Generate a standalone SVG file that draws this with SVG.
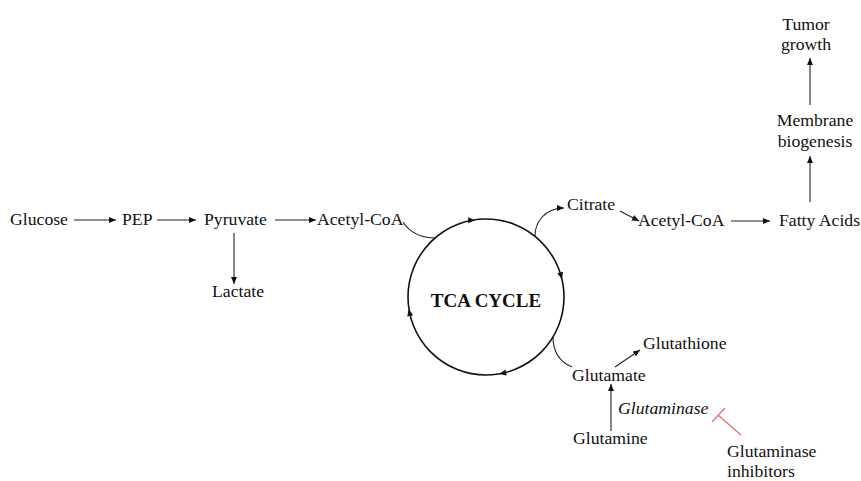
<svg xmlns="http://www.w3.org/2000/svg" width="861" height="481" viewBox="0 0 861 481">
<style>
text{font-family:"Liberation Serif","Times New Roman",serif;font-size:17.7px;fill:#111}
.it{font-style:italic}
.b{font-weight:bold;font-size:19px}
.ln{fill:none;stroke:#222;stroke-width:1.1}
.red{fill:none;stroke:#e8706e;stroke-width:1.3}
</style>
<defs>
<marker id="ah" markerUnits="userSpaceOnUse" markerWidth="8" markerHeight="8" viewBox="0 0 8 8" refX="7" refY="4" orient="auto">
<path d="M0,1 L7,4 L0,7 Z" fill="#111"/>
</marker>
<polygon id="tri" points="3,0 -4,-3 -4,3" fill="#111"/>
</defs>
<rect width="861" height="481" fill="#fff"/>
<g id="connectors">
<line class="ln" x1="74" y1="220" x2="116" y2="220" marker-end="url(#ah)"/>
<line class="ln" x1="157" y1="220" x2="196" y2="220" marker-end="url(#ah)"/>
<line class="ln" x1="275" y1="220" x2="316" y2="220" marker-end="url(#ah)"/>
<line class="ln" x1="234" y1="233" x2="234" y2="284" marker-end="url(#ah)"/>
<path class="ln" d="M403,222 C410,233 420,238 436,238"/>
<path class="ln" d="M535,236 C535,222 545,208 564,208" marker-end="url(#ah)"/>
<line class="ln" x1="620" y1="211" x2="639" y2="221" marker-end="url(#ah)"/>
<line class="ln" x1="731" y1="221" x2="770" y2="221" marker-end="url(#ah)"/>
<line class="ln" x1="810" y1="202" x2="810" y2="156" marker-end="url(#ah)"/>
<line class="ln" x1="810" y1="105" x2="810" y2="58" marker-end="url(#ah)"/>
<path class="ln" d="M553,337 C553,352 560,362 572,367"/>
<line class="ln" x1="615" y1="367" x2="640" y2="350" marker-end="url(#ah)"/>
<line class="ln" x1="611" y1="431" x2="611" y2="384" marker-end="url(#ah)"/>
<line class="red" x1="741" y1="435" x2="718" y2="415"/>
<line class="red" x1="712" y1="422" x2="725" y2="408"/>
</g>
<g id="tca">
<circle cx="486" cy="297" r="78" fill="none" stroke="#111" stroke-width="1.6"/>
<use href="#tri" transform="translate(472.1,220.3)"/>
<use href="#tri" transform="translate(561.2,276.3) rotate(74.6)"/>
<use href="#tri" transform="translate(502.2,373.3) rotate(168)"/>
<use href="#tri" transform="translate(409.4,311.9) rotate(-101)"/>
<text class="b" x="486" y="307" text-anchor="middle">TCA CYCLE</text>
</g>
<g id="glucose"><text x="10" y="225">Glucose</text></g>
<g id="pep"><text x="122" y="225">PEP</text></g>
<g id="pyruvate"><text x="204" y="225">Pyruvate</text></g>
<g id="acetylcoa1"><text x="317" y="225">Acetyl-CoA</text></g>
<g id="lactate"><text x="212" y="297">Lactate</text></g>
<g id="citrate"><text x="567" y="210">Citrate</text></g>
<g id="acetylcoa2"><text x="638" y="226">Acetyl-CoA</text></g>
<g id="fattyacids"><text x="779" y="226">Fatty Acids</text></g>
<g id="membrane"><text x="815" y="126" text-anchor="middle">Membrane</text><text x="815" y="147" text-anchor="middle">biogenesis</text></g>
<g id="tumor"><text x="806" y="30" text-anchor="middle">Tumor</text><text x="806" y="50" text-anchor="middle">growth</text></g>
<g id="glutathione"><text x="643" y="349">Glutathione</text></g>
<g id="glutamate"><text x="572" y="381">Glutamate</text></g>
<g id="glutaminase"><text class="it" x="618" y="414">Glutaminase</text></g>
<g id="glutamine"><text x="573" y="444">Glutamine</text></g>
<g id="inhibitors"><text x="727" y="457">Glutaminase</text><text x="727" y="477">inhibitors</text></g>
</svg>
